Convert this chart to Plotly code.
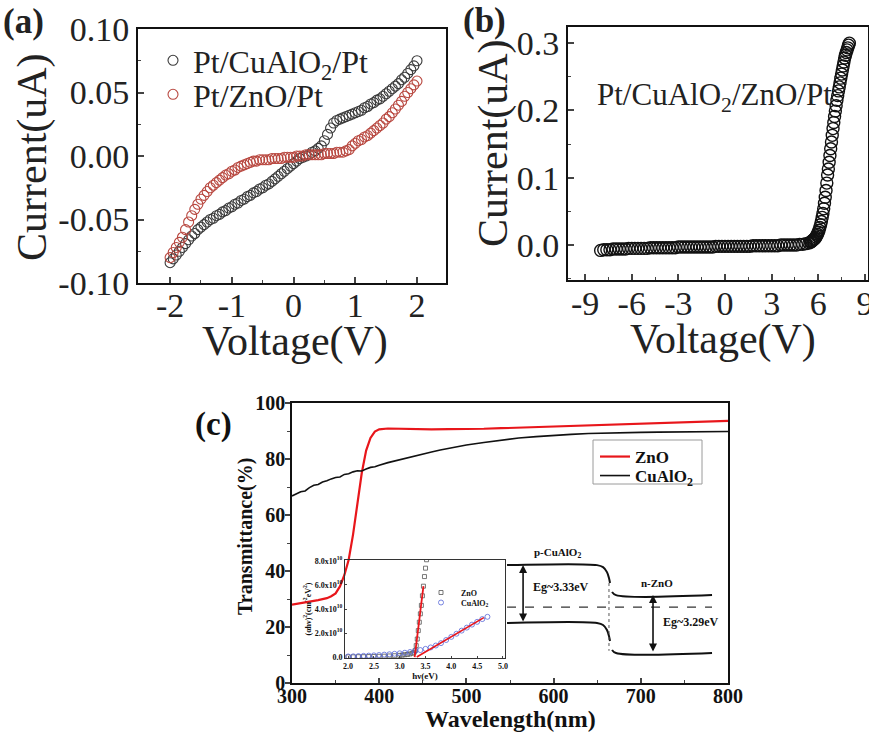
import plotly.graph_objects as go

W, H = 869, 733

# ---------------- data: panel (a) ----------------
a_v = [-2.00,-1.95,-1.90,-1.85,-1.80,-1.75,-1.70,-1.65,-1.60,-1.55,
       -1.50,-1.45,-1.40,-1.35,-1.30,-1.25,-1.20,-1.15,-1.10,-1.05,
       -1.00,-0.95,-0.90,-0.85,-0.80,-0.75,-0.70,-0.65,-0.60,-0.55,
       -0.50,-0.45,-0.40,-0.35,-0.30,-0.25,-0.20,-0.15,-0.10,-0.05,
       0.00,0.05,0.10,0.15,0.20,0.25,0.30,0.35,0.40,0.45,
       0.50,0.55,0.60,0.65,0.70,0.75,0.80,0.85,0.90,0.95,
       1.00,1.05,1.10,1.15,1.20,1.25,1.30,1.35,1.40,1.45,
       1.50,1.55,1.60,1.65,1.70,1.75,1.80,1.85,1.90,1.95,
       2.00]
a_cualo2 = [-0.084,-0.081,-0.078,-0.075,-0.072,-0.069,-0.066,-0.063,-0.061,-0.058,
            -0.056,-0.054,-0.052,-0.050,-0.049,-0.047,-0.046,-0.044,-0.043,-0.041,
            -0.040,-0.038,-0.037,-0.035,-0.034,-0.032,-0.031,-0.029,-0.028,-0.026,
            -0.025,-0.023,-0.022,-0.020,-0.018,-0.016,-0.014,-0.012,-0.010,-0.008,
            -0.006,-0.004,-0.002,-0.001,0.000,0.001,0.003,0.004,0.006,0.008,
            0.012,0.017,0.022,0.026,0.028,0.029,0.030,0.031,0.032,0.033,
            0.034,0.035,0.036,0.038,0.039,0.041,0.042,0.044,0.045,0.047,
            0.049,0.051,0.053,0.055,0.057,0.060,0.062,0.065,0.068,0.071,
            0.075]
a_zno = [-0.080,-0.076,-0.072,-0.068,-0.064,-0.058,-0.052,-0.047,-0.042,-0.038,
         -0.034,-0.031,-0.028,-0.025,-0.023,-0.021,-0.019,-0.017,-0.015,-0.014,
         -0.012,-0.011,-0.009,-0.008,-0.007,-0.006,-0.005,-0.004,-0.004,-0.003,
         -0.003,-0.003,-0.003,-0.002,-0.002,-0.002,-0.002,-0.001,-0.001,-0.001,
         -0.001,0.000,0.000,0.000,0.001,0.001,0.001,0.001,0.001,0.001,
         0.002,0.002,0.002,0.002,0.003,0.003,0.003,0.004,0.005,0.008,
         0.010,0.012,0.013,0.015,0.016,0.018,0.020,0.022,0.024,0.026,
         0.029,0.031,0.034,0.037,0.040,0.043,0.047,0.050,0.053,0.056,
         0.059]
a_xticks = [-2, -1, 0, 1, 2]
a_xlabels = ["-2", "-1", "0", "1", "2"]
a_yticks = [-0.10, -0.05, 0.00, 0.05, 0.10]
a_ylabels = ["-0.10", "-0.05", "0.00", "0.05", "0.10"]

# ---------------- data: panel (b) ----------------
b_v = [-8.0,-7.8,-7.6,-7.4,-7.2,-7.0,-6.8,-6.6,-6.4,-6.2,
       -6.0,-5.8,-5.6,-5.4,-5.2,-5.0,-4.8,-4.6,-4.4,-4.2,
       -4.0,-3.8,-3.6,-3.4,-3.2,-3.0,-2.8,-2.6,-2.4,-2.2,
       -2.0,-1.8,-1.6,-1.4,-1.2,-1.0,-0.8,-0.6,-0.4,-0.2,
       0.0,0.2,0.4,0.6,0.8,1.0,1.2,1.4,1.6,1.8,
       2.0,2.2,2.4,2.6,2.8,3.0,3.2,3.4,3.6,3.8,
       4.0,4.2,4.4,4.6,4.8,5.0,5.2,5.4,
       5.50,5.55,5.60,5.65,5.70,5.75,5.80,5.85,5.90,5.95,
       6.00,6.05,6.10,6.15,6.20,6.25,6.30,6.35,6.40,6.45,
       6.50,6.55,6.60,6.65,6.70,6.75,6.80,6.85,6.90,6.95,
       7.00,7.05,7.10,7.15,7.20,7.25,7.30,7.35,7.40,7.45,
       7.50,7.55,7.60,7.65,7.70,7.75,7.80,7.85,7.90,7.95,
       8.00]
b_i = [-0.008,-0.007,-0.007,-0.007,-0.006,-0.006,-0.006,-0.006,-0.006,-0.005,
       -0.005,-0.005,-0.005,-0.005,-0.005,-0.005,-0.004,-0.004,-0.004,-0.004,
       -0.004,-0.004,-0.004,-0.004,-0.004,-0.003,-0.003,-0.003,-0.003,-0.003,
       -0.003,-0.003,-0.003,-0.003,-0.003,-0.003,-0.003,-0.002,-0.002,-0.002,
       -0.002,-0.002,-0.002,-0.002,-0.002,-0.002,-0.002,-0.002,-0.002,-0.001,
       -0.001,-0.001,-0.001,-0.001,-0.001,-0.001,-0.001,-0.001,0.000,0.000,
       0.000,0.000,0.000,0.000,0.001,0.001,0.002,0.003,
       0.004,0.005,0.006,0.007,0.008,0.009,0.010,0.012,0.014,0.016,
       0.019,0.022,0.026,0.030,0.035,0.041,0.047,0.054,0.062,0.071,
       0.081,0.092,0.104,0.113,0.123,0.133,0.143,0.153,0.163,0.173,
       0.182,0.191,0.199,0.207,0.215,0.222,0.229,0.235,0.241,0.248,
       0.254,0.260,0.266,0.272,0.278,0.282,0.286,0.290,0.293,0.297,
       0.300]
b_xticks = [-9, -6, -3, 0, 3, 6, 9]
b_xlabels = ["-9", "-6", "-3", "0", "3", "6", "9"]
b_yticks = [0.0, 0.1, 0.2, 0.3]
b_ylabels = ["0.0", "0.1", "0.2", "0.3"]

# ---------------- data: panel (c) ----------------
zno_wl = [300,310,320,330,340,345,350,355,360,365,370,375,380,385,390,395,400,410,420,440,
          460,480,500,520,540,560,580,600,620,640,660,680,700,720,740,760,780,800]
zno_T = [28.0,28.5,29.0,29.6,30.3,31.0,32.0,34.5,38.5,44.0,53.0,64.0,75.0,83.0,87.5,89.8,90.6,90.9,90.8,90.6,
         90.6,90.7,90.7,90.8,91.0,91.2,91.4,91.7,91.9,92.1,92.3,92.6,92.8,93.0,93.2,93.4,93.5,93.6]
cu_wl = [300,305,310,315,320,325,330,335,340,345,350,355,360,365,370,375,380,385,390,395,400,
         410,420,430,440,450,460,470,480,490,500,
         520,540,560,580,600,620,640,660,680,700,720,740,760,780,800]
cu_T = [66.8,67.6,68.3,68.6,69.8,70.6,70.9,71.8,72.2,72.9,73.4,73.6,74.5,74.7,75.4,75.8,75.7,76.4,77.0,77.2,77.8,
        78.7,79.5,80.3,81.1,81.8,82.5,83.2,83.8,84.4,85.0,
        85.9,86.8,87.5,88.0,88.5,88.8,89.1,89.3,89.4,89.5,89.6,89.6,89.7,89.7,89.8]

# inset: (alpha h nu)^2 vs h nu, in units of 1e10
ins_zno_hv = [2.0,2.1,2.2,2.3,2.4,2.5,2.6,2.7,2.8,2.9,3.0,3.05,3.1,3.15,3.2,3.25,3.28,
              3.30,3.32,3.34,3.36,3.38,3.40,3.42,3.44,3.46,3.48,3.50,3.52]
ins_zno_a = [0.02,0.02,0.03,0.03,0.04,0.05,0.06,0.07,0.09,0.11,0.14,0.16,0.19,0.22,0.26,0.32,0.40,
             0.55,0.95,1.5,2.2,2.9,3.6,4.3,5.1,5.9,6.7,7.4,8.1]
ins_cu_hv = [2.0,2.1,2.2,2.3,2.4,2.5,2.6,2.7,2.8,2.9,3.0,3.1,3.2,3.3,3.4,3.5,3.6,3.7,3.8,3.9,
             4.0,4.1,4.2,4.3,4.4,4.5,4.6,4.7]
ins_cu_a = [0.05,0.06,0.08,0.10,0.12,0.14,0.17,0.20,0.23,0.27,0.31,0.36,0.42,0.50,0.58,0.68,0.80,0.96,1.16,1.42,
            1.68,1.94,2.20,2.45,2.70,2.93,3.16,3.35]
fit_zno_hv = [3.29, 3.46]
fit_zno_a = [0.0, 5.9]
fit_cu_hv = [3.33, 4.63]
fit_cu_a = [0.0, 3.28]
ins_yticks = [0, 2, 4, 6, 8]
ins_ylabels = ["0.0", "2.0x10<sup>10</sup>", "4.0x10<sup>10</sup>", "6.0x10<sup>10</sup>", "8.0x10<sup>10</sup>"]
ins_xticks = [2.0, 2.5, 3.0, 3.5, 4.0, 4.5, 5.0]
ins_xlabels = ["2.0", "2.5", "3.0", "3.5", "4.0", "4.5", "5.0"]

# band diagram schematic (drawn in panel (c) axis units)
band_p_cb_wl = [546.6, 649.8, 656.7, 661.2, 663.5, 664.7]
band_p_cb_T = [42.1, 42.1, 41.4, 39.6, 37.5, 35.7]
band_p_vb_wl = [546.6, 649.8, 656.7, 661.2, 663.5, 664.7]
band_p_vb_T = [21.4, 21.4, 20.7, 18.9, 16.8, 15.0]
band_n_cb_wl = [667.0, 671.6, 781.7]
band_n_cb_T = [32.5, 31.4, 31.4]
band_n_vb_wl = [667.0, 671.6, 781.7]
band_n_vb_T = [11.8, 10.7, 10.7]
junction_wl = [663.5, 663.5]
junction_T = [35.7, 11.5]
fermi_wl = [546.6, 781.7]
fermi_T = [27.1, 27.1]

SERIF = "Liberation Serif"
INK = "#222222"


def px(x):
    return x / W


def py(y):
    return 1 - y / H


fig = go.Figure()

# panel (a)
fig.add_trace(go.Scatter(x=a_v, y=a_cualo2, mode="markers", name="Pt/CuAlO<sub>2</sub>/Pt",
                         marker=dict(symbol="circle-open", size=10, color="#3a3a3a", line=dict(width=1.1)),
                         xaxis="x", yaxis="y", legend="legend"))
fig.add_trace(go.Scatter(x=a_v, y=a_zno, mode="markers", name="Pt/ZnO/Pt",
                         marker=dict(symbol="circle-open", size=10, color="#b8473f", line=dict(width=1.1)),
                         xaxis="x", yaxis="y", legend="legend4"))
# panel (b)
fig.add_trace(go.Scatter(x=b_v, y=b_i, mode="markers", name="Pt/CuAlO2/ZnO/Pt", showlegend=False,
                         marker=dict(symbol="circle-open", size=12, color="#111111", line=dict(width=1.4)),
                         xaxis="x2", yaxis="y2"))
# panel (c)
fig.add_trace(go.Scatter(x=zno_wl, y=zno_T, mode="lines", name="ZnO",
                         line=dict(color="#e8161b", width=2.2), xaxis="x3", yaxis="y3", legend="legend2"))
fig.add_trace(go.Scatter(x=cu_wl, y=cu_T, mode="lines", name="CuAlO<sub>2</sub>",
                         line=dict(color="#111111", width=1.6), xaxis="x3", yaxis="y3", legend="legend6"))

# band diagram
for bx, by in [(band_p_cb_wl, band_p_cb_T), (band_p_vb_wl, band_p_vb_T),
               (band_n_cb_wl, band_n_cb_T), (band_n_vb_wl, band_n_vb_T)]:
    fig.add_trace(go.Scatter(x=bx, y=by, mode="lines", showlegend=False, hoverinfo="skip",
                             line=dict(color="#111111", width=2, shape="spline"),
                             xaxis="x3", yaxis="y3"))
fig.add_trace(go.Scatter(x=junction_wl, y=junction_T, mode="lines", showlegend=False, hoverinfo="skip",
                         line=dict(color="#555555", width=1, dash="dot"), xaxis="x3", yaxis="y3"))
fig.add_trace(go.Scatter(x=fermi_wl, y=fermi_T, mode="lines", showlegend=False, hoverinfo="skip",
                         line=dict(color="#333333", width=1.2, dash="dash"), xaxis="x3", yaxis="y3"))

# inset
fig.add_trace(go.Scatter(x=ins_zno_hv, y=ins_zno_a, mode="markers", name="ZnO",
                         marker=dict(symbol="square-open", size=4, color="#555555", line=dict(width=0.8)),
                         xaxis="x4", yaxis="y4", legend="legend3"))
fig.add_trace(go.Scatter(x=ins_cu_hv, y=ins_cu_a, mode="markers", name="CuAlO<sub>2</sub>",
                         marker=dict(symbol="circle-open", size=5, color="#5566d8", line=dict(width=0.8)),
                         xaxis="x4", yaxis="y4", legend="legend5"))
fig.add_trace(go.Scatter(x=fit_zno_hv, y=fit_zno_a, mode="lines", showlegend=False,
                         line=dict(color="#e8161b", width=1.8), xaxis="x4", yaxis="y4"))
fig.add_trace(go.Scatter(x=fit_cu_hv, y=fit_cu_a, mode="lines", showlegend=False,
                         line=dict(color="#e8161b", width=1.6), xaxis="x4", yaxis="y4"))

ab_tick = dict(family=SERIF, size=34, color=INK)
box = dict(showline=True, linewidth=2, linecolor="#111111", mirror=True, showgrid=False,
           zeroline=False, automargin=False)
c_tick = dict(family=SERIF, size=20, color="#111111", weight="bold")
small_leg = dict(family=SERIF, size=8, weight="bold")
c_leg = dict(family=SERIF, size=17, weight="bold")
clear = "rgba(0,0,0,0)"

fig.update_layout(
    width=W, height=H, autosize=False,
    margin=dict(l=0, r=0, t=0, b=0),
    paper_bgcolor="white", plot_bgcolor=clear,
    font=dict(family=SERIF, color="#111111"),
    xaxis=dict(domain=[px(138), px(446)], anchor="y", range=[-2.52, 2.47],
               tickvals=a_xticks, ticktext=a_xlabels, ticks="inside", ticklen=6, tickwidth=1.5,
               minor=dict(tickvals=[-1.5, -0.5, 0.5, 1.5], ticks="inside", ticklen=3, tickwidth=1),
               tickfont=ab_tick, ticklabelstandoff=-9, **box),
    yaxis=dict(domain=[py(283), py(29)], anchor="x", range=[-0.10, 0.10],
               tickvals=a_yticks, ticktext=a_ylabels, ticks="inside", ticklen=6, tickwidth=1.5,
               minor=dict(tickvals=[-0.075, -0.025, 0.025, 0.075], ticks="inside", ticklen=3, tickwidth=1),
               tickfont=ab_tick, **box),
    xaxis2=dict(domain=[px(568), px(868)], anchor="y2", range=[-10.1, 9.2],
                tickvals=b_xticks, ticktext=b_xlabels, ticks="inside", ticklen=6, tickwidth=1.5,
                minor=dict(tickvals=[-7.5, -4.5, -1.5, 1.5, 4.5, 7.5], ticks="inside", ticklen=3, tickwidth=1),
                tickfont=ab_tick, ticklabelstandoff=-8, ticklabeloverflow="allow", **box),
    yaxis2=dict(domain=[py(280), py(27)], anchor="x2", range=[-0.052, 0.324],
                tickvals=b_yticks, ticktext=b_ylabels, ticks="inside", ticklen=6, tickwidth=1.5,
                minor=dict(tickvals=[-0.05, 0.05, 0.15, 0.25], ticks="inside", ticklen=3, tickwidth=1),
                tickfont=ab_tick, **box),
    xaxis3=dict(domain=[px(292), px(728)], anchor="y3", range=[300, 800], dtick=100,
                ticks="inside", ticklen=5, tickwidth=1.5,
                minor=dict(dtick=50, ticks="inside", ticklen=3, tickwidth=1),
                tickfont=c_tick, ticklabelstandoff=-6,
                showline=True, linewidth=1.6, linecolor="#111111", mirror=True, showgrid=False,
                zeroline=False, automargin=False),
    yaxis3=dict(domain=[py(683), py(403)], anchor="x3", range=[0, 100], dtick=20,
                ticks="outside", ticklen=5, tickwidth=1.5,
                minor=dict(dtick=10, ticks="outside", ticklen=3, tickwidth=1),
                tickfont=c_tick, ticklabelstandoff=-4,
                showline=True, linewidth=1.6, linecolor="#111111", mirror=True, showgrid=False,
                zeroline=False, automargin=False),
    xaxis4=dict(domain=[px(345), px(505)], anchor="y4", range=[1.94, 5.04],
                tickvals=ins_xticks, ticktext=ins_xlabels, ticks="inside", ticklen=2, tickwidth=1,
                tickfont=dict(family=SERIF, size=8, weight="bold"),
                title=dict(text="hν(eV)", font=dict(family=SERIF, size=9, weight="bold"), standoff=0),
                showline=True, linewidth=1, linecolor="#333333", mirror=True, showgrid=False,
                zeroline=False, automargin=False),
    yaxis4=dict(domain=[py(658), py(560)], anchor="x4", range=[-0.08, 8.08],
                tickvals=ins_yticks, ticktext=ins_ylabels, ticks="inside", ticklen=2, tickwidth=1,
                tickfont=dict(family=SERIF, size=8, weight="bold"),
                title=dict(text="(αhν)<sup>2</sup>(cm<sup>-2</sup>eV<sup>2</sup>)",
                           font=dict(family=SERIF, size=8, weight="bold"), standoff=2),
                showline=True, linewidth=1, linecolor="#333333", mirror=True, showgrid=False,
                zeroline=False, automargin=False),
    legend=dict(x=px(153), y=py(33), xanchor="left", yanchor="top", bgcolor=clear,
                font=dict(family=SERIF, size=32, color=INK), itemwidth=30),
    legend4=dict(x=px(153), y=py(67), xanchor="left", yanchor="top", bgcolor=clear,
                 font=dict(family=SERIF, size=32, color=INK), itemwidth=30),
    legend2=dict(x=px(595), y=py(439), xanchor="left", yanchor="top", bgcolor=clear,
                 font=c_leg, itemwidth=30),
    legend6=dict(x=px(595), y=py(458), xanchor="left", yanchor="top", bgcolor=clear,
                 font=c_leg, itemwidth=30),
    legend3=dict(x=px(421), y=py(578), xanchor="left", yanchor="top", bgcolor=clear,
                 font=small_leg, itemwidth=30),
    legend5=dict(x=px(421), y=py(588), xanchor="left", yanchor="top", bgcolor=clear,
                 font=small_leg, itemwidth=30),
    shapes=[dict(type="rect", xref="paper", yref="paper", x0=px(593), x1=px(702), y0=py(484), y1=py(440),
                 line=dict(color="#9a9a9a", width=1), fillcolor="white", layer="below")],
)

title_font = dict(family=SERIF, size=42, color=INK)
ann = [
    # panel letters
    dict(text="<b>(a)</b>", x=px(1), y=py(0), xref="paper", yref="paper", xanchor="left", yanchor="top",
         showarrow=False, font=dict(family=SERIF, size=35, color=INK)),
    dict(text="<b>(b)</b>", x=px(461), y=py(-1), xref="paper", yref="paper", xanchor="left", yanchor="top",
         showarrow=False, font=dict(family=SERIF, size=35, color=INK)),
    dict(text="<b>(c)</b>", x=px(213), y=py(424), xref="paper", yref="paper", xanchor="center", yanchor="middle",
         showarrow=False, font=dict(family=SERIF, size=33)),
    # axis titles
    dict(text="Voltage(V)", x=px(295), y=py(341), xref="paper", yref="paper", xanchor="center",
         yanchor="middle", showarrow=False, font=title_font),
    dict(text="Current(uA)", x=px(32), y=py(157), xref="paper", yref="paper", xanchor="center",
         yanchor="middle", showarrow=False, textangle=-90, font=title_font),
    dict(text="Voltage(V)", x=px(723), y=py(339), xref="paper", yref="paper", xanchor="center",
         yanchor="middle", showarrow=False, font=title_font),
    dict(text="Current(uA)", x=px(493), y=py(143), xref="paper", yref="paper", xanchor="center",
         yanchor="middle", showarrow=False, textangle=-90, font=title_font),
    dict(text="<b>Wavelength(nm)</b>", x=px(510), y=py(719), xref="paper", yref="paper", xanchor="center",
         yanchor="middle", showarrow=False, font=dict(family=SERIF, size=24)),
    dict(text="<b>Transmittance(%)</b>", x=px(245), y=py(537), xref="paper", yref="paper", xanchor="center",
         yanchor="middle", showarrow=False, textangle=-90, font=dict(family=SERIF, size=20)),
    # panel (b) label
    dict(text="Pt/CuAlO<sub>2</sub>/ZnO/Pt", x=px(595), y=py(97), xref="paper", yref="paper",
         xanchor="left", yanchor="middle", showarrow=False, font=dict(family=SERIF, size=31, color=INK)),
    # band diagram labels
    dict(text="p-CuAlO<sub>2</sub>", x=605, y=46.6, xref="x3", yref="y3", showarrow=False,
         font=dict(family=SERIF, size=11, weight="bold")),
    dict(text="Eg~3.33eV", x=609, y=34.3, xref="x3", yref="y3", showarrow=False,
         font=dict(family=SERIF, size=12, weight="bold")),
    dict(text="n-ZnO", x=718, y=35.7, xref="x3", yref="y3", showarrow=False,
         font=dict(family=SERIF, size=11, weight="bold")),
    dict(text="Eg~3.29eV", x=758, y=21.8, xref="x3", yref="y3", showarrow=False,
         font=dict(family=SERIF, size=12, weight="bold")),
    dict(x=565, y=42.1, ax=565, ay=21.4, xref="x3", yref="y3", axref="x3", ayref="y3", text="",
         showarrow=True, arrowhead=2, arrowside="end+start", arrowsize=1, arrowwidth=1.6, arrowcolor="#111111"),
    dict(x=714, y=31.4, ax=714, ay=10.7, xref="x3", yref="y3", axref="x3", ayref="y3", text="",
         showarrow=True, arrowhead=2, arrowside="end+start", arrowsize=1, arrowwidth=1.6, arrowcolor="#111111"),
]
fig.update_layout(annotations=ann)

fig.write_html("out.html", config={"displayModeBar": False},
               post_script="document.body.style.margin='0px';document.body.style.overflow='hidden';")
